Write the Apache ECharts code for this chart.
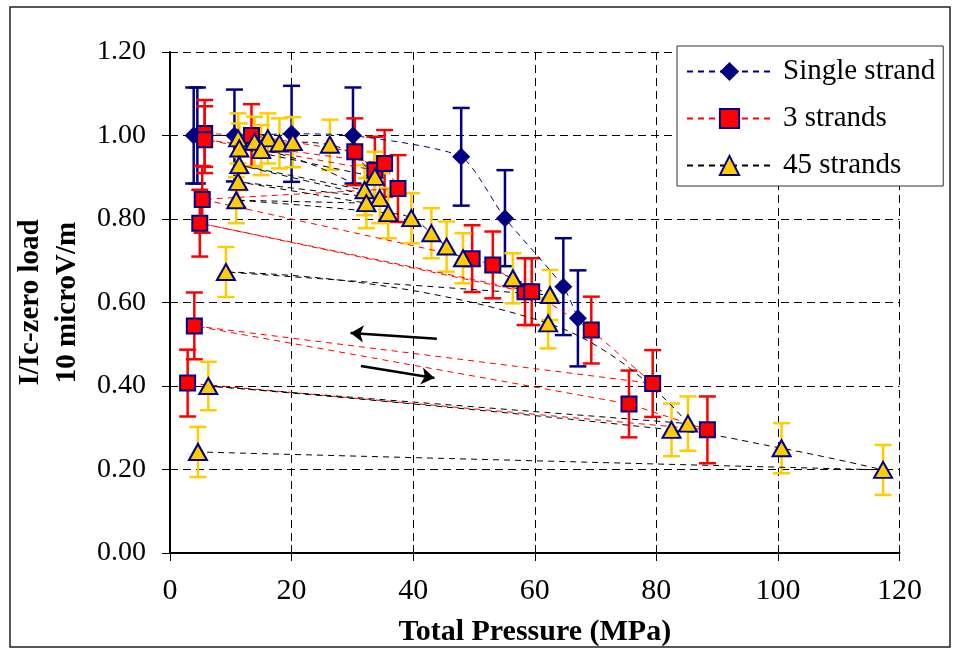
<!DOCTYPE html>
<html>
<head>
<meta charset="utf-8">
<script src="https://cdn.jsdelivr.net/npm/echarts@6/dist/echarts.min.js"></script>
<style>
  html, body { margin: 0; padding: 0; background: #fff; }
  #chart { width: 960px; height: 653px; }
</style>
</head>
<body>
<div id="chart"></div>
<script>
// Tick labels
const pressureTicks = [0, 20, 40, 60, 80, 100, 120];
const ratioTicks = ['0.00', '0.20', '0.40', '0.60', '0.80', '1.00', '1.20'];

// Single strand: pressure (MPa), normalised Ic, error half-width
const singlePressure = [3.9, 4.5, 10.6, 20.0, 30.1, 47.9, 55.1, 64.7, 67.1];
const singleRatio    = [1.00, 1.00, 1.00, 1.004, 1.00, 0.949, 0.802, 0.638, 0.562];
const singleErr      = [0.115, 0.115, 0.11, 0.115, 0.115, 0.117, 0.115, 0.116, 0.115];

// 3 strands, in loading / unloading order
const threePressure = [5.7, 13.4, 30.4, 33.7, 5.7, 35.3, 37.5, 5.3, 49.7, 53.1, 58.4, 4.9, 59.5, 69.3, 79.4, 4.0, 75.5, 88.4, 2.9];
const threeRatio    = [1.005, 1.00, 0.961, 0.917, 0.99, 0.933, 0.873, 0.847, 0.705, 0.69, 0.626, 0.79, 0.626, 0.534, 0.406, 0.544, 0.357, 0.295, 0.407];
const threeErr      = [0.08, 0.075, 0.08, 0.08, 0.08, 0.08, 0.08, 0.08, 0.08, 0.08, 0.08, 0.08, 0.08, 0.08, 0.08, 0.08, 0.08, 0.08, 0.08];

// 45 strands, in loading / unloading order
const fortyFivePressure = [11.2, 13.9, 16.1, 18.0, 20.2, 26.3, 33.7, 11.4, 15.0, 32.0, 11.4, 34.5, 11.2, 32.3, 10.9,
                           35.9, 39.7, 43.0, 45.5, 48.2, 56.4, 62.5, 9.2, 62.2, 85.2, 6.3, 82.5, 100.6, 117.3, 4.6];
const fortyFiveRatio    = [0.993, 0.985, 0.993, 0.981, 0.984, 0.978, 0.901, 0.969, 0.965, 0.869, 0.929, 0.85, 0.889, 0.838, 0.845,
                           0.814, 0.802, 0.766, 0.734, 0.706, 0.658, 0.618, 0.673, 0.55, 0.31, 0.40, 0.295, 0.251, 0.199, 0.242];
const fortyFiveErr      = [0.06, 0.06, 0.06, 0.06, 0.06, 0.06, 0.06, 0.06, 0.06, 0.06, 0.06, 0.06, 0.06, 0.06, 0.055,
                           0.06, 0.06, 0.06, 0.06, 0.06, 0.06, 0.06, 0.06, 0.06, 0.065, 0.058, 0.063, 0.06, 0.06, 0.06];

const SERIF = '"Liberation Serif", "Times New Roman", serif';
const NAVY = '#000080';
const RED = '#FF0000';
const GOLD = '#FFCC00';

const pairs = (xs, ys) => xs.map((x, i) => [x, ys[i]]);

// Vertical error bar with caps, one per point
function errorBars(name, xs, ys, errs, color) {
  return {
    type: 'custom',
    name: name + ' (error)',
    silent: true,
    clip: false,
    encode: { x: 0, y: [1, 2] },
    data: xs.map((x, i) => [x, ys[i] - errs[i], ys[i] + errs[i]]),
    renderItem: (params, api) => {
      const x = api.value(0);
      const lo = api.coord([x, api.value(1)]);
      const hi = api.coord([x, api.value(2)]);
      const half = 8.5;
      const style = { stroke: color, lineWidth: 2.5, fill: null };
      return {
        type: 'group',
        children: [
          { type: 'line', shape: { x1: lo[0], y1: lo[1], x2: hi[0], y2: hi[1] }, style },
          { type: 'line', shape: { x1: lo[0] - half, y1: lo[1], x2: lo[0] + half, y2: lo[1] }, style },
          { type: 'line', shape: { x1: hi[0] - half, y1: hi[1], x2: hi[0] + half, y2: hi[1] }, style }
        ]
      };
    }
  };
}

const gridDash = { color: '#000', width: 1, type: [8, 5] };

const chart = echarts.init(document.getElementById('chart'), null, { renderer: 'canvas' });
chart.setOption({
  animation: false,
  backgroundColor: '#fff',
  grid: { left: 170, right: 60.5, top: 52, bottom: 100, containLabel: false },
  graphic: [{
    type: 'rect',
    shape: { x: 10, y: 7, width: 940, height: 640 },
    style: { fill: null, stroke: '#222', lineWidth: 1.5 },
    silent: true,
    z: -10
  }],
  legend: {
    data: ['Single strand', '3 strands', '45 strands'],
    orient: 'vertical',
    left: 677,
    top: 46,
    backgroundColor: '#fff',
    borderColor: '#333',
    borderWidth: 1,
    padding: [11, 8, 6, 9],
    itemWidth: 85,
    itemHeight: 24,
    itemGap: 18,
    selectedMode: false,
    textStyle: { fontFamily: SERIF, fontSize: 29, color: '#000', padding: [0, 0, 0, 6] }
  },
  xAxis: [{
    type: 'value',
    min: 0, max: 120, interval: 20,
    position: 'bottom',
    axisLine: { lineStyle: { color: '#000', width: 2 } },
    axisTick: { length: 8, lineStyle: { color: '#000', width: 1 } },
    splitLine: { show: true, lineStyle: gridDash },
    axisLabel: {
      margin: 23,
      fontFamily: SERIF, fontSize: 30, color: '#000',
      formatter: v => String(pressureTicks[Math.round(v / 20)])
    },
    name: 'Total Pressure (MPa)',
    nameLocation: 'middle',
    nameGap: 64,
    nameTextStyle: { fontFamily: SERIF, fontSize: 30, fontWeight: 'bold', color: '#000' }
  }, {
    type: 'value',
    min: 0, max: 120, interval: 20,
    position: 'bottom',
    axisLine: { show: false },
    axisTick: { inside: true, length: 8, lineStyle: { color: '#000', width: 1 } },
    splitLine: { show: false },
    axisLabel: { show: false }
  }],
  yAxis: [{
    type: 'value',
    min: 0, max: 1.2, interval: 0.2,
    position: 'left',
    axisLine: { show: true, lineStyle: { color: '#000', width: 2 } },
    axisTick: { show: true, length: 8, lineStyle: { color: '#000', width: 1 } },
    splitLine: { show: true, lineStyle: gridDash },
    axisLabel: {
      margin: 24,
      fontFamily: SERIF, fontSize: 28, color: '#000',
      formatter: v => ratioTicks[Math.round(v / 0.2)]
    },
    name: 'I/Ic-zero load\n10 microV/m',
    nameLocation: 'middle',
    nameGap: 76,
    nameTextStyle: { fontFamily: SERIF, fontSize: 29, fontWeight: 'bold', color: '#000', lineHeight: 37, align: 'center' }
  }, {
    type: 'value',
    min: 0, max: 1.2, interval: 0.2,
    position: 'left',
    axisLine: { show: false },
    axisTick: { show: true, inside: true, length: 8, lineStyle: { color: '#000', width: 1 } },
    splitLine: { show: false },
    axisLabel: { show: false }
  }],
  series: [
    errorBars('Single strand', singlePressure, singleRatio, singleErr, NAVY),
    {
      type: 'line',
      name: 'Single strand',
      data: pairs(singlePressure, singleRatio),
      smooth: 0.2,
      symbol: 'diamond',
      symbolSize: 18,
      itemStyle: { color: NAVY },
      lineStyle: { color: NAVY, width: 1, type: [6, 5] },
      emphasis: { disabled: true }
    },
    errorBars('3 strands', threePressure, threeRatio, threeErr, RED),
    {
      type: 'line',
      name: '3 strands',
      data: pairs(threePressure, threeRatio),
      symbol: 'rect',
      symbolSize: 15,
      itemStyle: { color: RED, borderColor: NAVY, borderWidth: 2 },
      lineStyle: { color: RED, width: 1, type: [6, 5] },
      emphasis: { disabled: true },
      markLine: {
        silent: true,
        symbol: ['none', 'arrow'],
        symbolSize: 13,
        label: { show: false },
        lineStyle: { color: '#000', width: 2.5, type: 'solid' },
        data: [
          [{ coord: [43.9, 0.513] }, { coord: [29.7, 0.527] }],
          [{ coord: [31.4, 0.448] }, { coord: [43.5, 0.419] }]
        ]
      }
    },
    errorBars('45 strands', fortyFivePressure, fortyFiveRatio, fortyFiveErr, GOLD),
    {
      type: 'line',
      name: '45 strands',
      data: pairs(fortyFivePressure, fortyFiveRatio),
      smooth: 0.5,
      symbol: 'triangle',
      symbolSize: [18, 16],
      itemStyle: { color: GOLD, borderColor: NAVY, borderWidth: 2 },
      lineStyle: { color: '#000', width: 1, type: [6, 5] },
      emphasis: { disabled: true }
    }
  ]
});
</script>
</body>
</html>
